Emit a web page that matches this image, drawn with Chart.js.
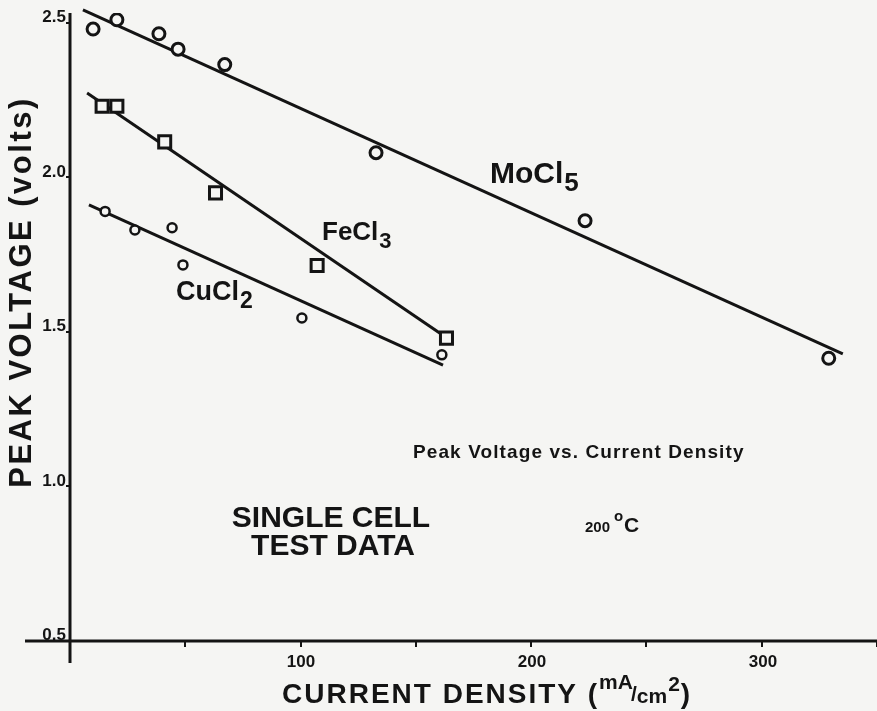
<!DOCTYPE html>
<html>
<head>
<meta charset="utf-8">
<title>Peak Voltage vs. Current Density</title>
<script src="https://cdn.jsdelivr.net/npm/chart.js@4.4.0/dist/chart.umd.min.js"></script>
<style>
  html, body { margin: 0; padding: 0; background: #f5f5f3; }
  #wrap { width: 877px; height: 711px; position: relative; }
</style>
</head>
<body>
<div id="wrap"><canvas id="peakChart"></canvas></div>
<script>
// values (x = mA/cm2, y = volts)
const moX = [10, 20.3, 38.5, 46.8, 67, 132.5, 223, 328.5];
const moY = [2.48, 2.51, 2.465, 2.415, 2.365, 2.08, 1.86, 1.415];
const feX = [13.9, 20.3, 41, 63, 107, 163];
const feY = [2.23, 2.23, 2.115, 1.95, 1.715, 1.48];
const cuX = [15.2, 28.1, 44.2, 48.9, 100.4, 161];
const cuY = [1.89, 1.83, 1.837, 1.717, 1.545, 1.426];

// hand drawn fit lines, end points
const moLineX = [5.6, 334.6];
const moLineY = [2.542, 1.429];
const feLineX = [7.4, 164.5];
const feLineY = [2.273, 1.474];
const cuLineX = [8.2, 161.5];
const cuLineY = [1.911, 1.393];

const xLabels = [100, 200, 300];
const yLabels = [0.5, 1.0, 1.5, 2.0, 2.5];

const ink = '#141414';
const paper = '#f5f5f3';
const fontFam = '"Liberation Sans", Arial, sans-serif';

function pts(xs, ys) {
    return xs.map((v, i) => ({ x: v, y: ys[i] }));
}

function markSet(label, xs, ys, style, r, bw) {
    return {
        label: label,
        data: pts(xs, ys),
        showLine: false,
        pointStyle: style,
        pointRadius: r,
        pointHoverRadius: r,
        pointBorderWidth: bw,
        pointBorderColor: ink,
        pointBackgroundColor: paper,
        order: 0
    };
}

function fitSet(label, xs, ys) {
    return {
        label: label,
        data: pts(xs, ys),
        showLine: true,
        borderColor: ink,
        borderWidth: 3,
        pointRadius: 0,
        clip: false,
        order: 1
    };
}

// formula with a subscript digit
function chem(ctx, base, sub, x, y, size, drop) {
    ctx.font = 'bold ' + size + 'px ' + fontFam;
    ctx.fillText(base, x, y);
    const w = ctx.measureText(base).width;
    ctx.font = 'bold ' + Math.round(size * 0.85) + 'px ' + fontFam;
    ctx.fillText(sub, x + w + 1, y + drop);
}

const paperPlugin = {
    id: 'paper',
    beforeDraw(chart) {
        const ctx = chart.ctx;
        ctx.save();
        ctx.fillStyle = paper;
        ctx.fillRect(0, 0, chart.width, chart.height);
        ctx.restore();
    },
    beforeDatasetsDraw(chart) {
        const { ctx, scales: { x, y } } = chart;
        const x0 = x.getPixelForValue(0);
        const yb = y.getPixelForValue(0.5);
        ctx.save();
        ctx.strokeStyle = ink;
        ctx.lineWidth = 3;
        ctx.beginPath();
        ctx.moveTo(25, yb);
        ctx.lineTo(chart.width, yb);
        ctx.moveTo(x0, y.top);
        ctx.lineTo(x0, yb + 22);
        ctx.stroke();

        // tick labels
        ctx.fillStyle = ink;
        ctx.font = 'bold 17px ' + fontFam;
        ctx.textAlign = 'center';
        ctx.textBaseline = 'top';
        xLabels.forEach(v => ctx.fillText(String(v), x.getPixelForValue(v), yb + 13));
        ctx.textAlign = 'right';
        ctx.textBaseline = 'bottom';
        ctx.font = 'bold 17px ' + fontFam;
        yLabels.forEach(v => ctx.fillText(v.toFixed(1), x0 - 4, y.getPixelForValue(v) + 3));
        ctx.restore();
    },
    afterDraw(chart) {
        const ctx = chart.ctx;
        ctx.save();
        ctx.fillStyle = ink;
        ctx.textBaseline = 'alphabetic';
        ctx.textAlign = 'left';

        chem(ctx, 'MoCl', '5', 490, 183, 30, 8);
        chem(ctx, 'FeCl', '3', 322, 240, 26, 8);
        chem(ctx, 'CuCl', '2', 176, 300, 27, 8);

        ctx.font = 'bold 19px ' + fontFam;
        ctx.letterSpacing = '1.1px';
        ctx.fillText('Peak Voltage vs. Current Density', 413, 458);
        ctx.letterSpacing = '0px';

        ctx.textAlign = 'center';
        ctx.font = 'bold 30px ' + fontFam;
        ctx.fillText('SINGLE CELL', 331, 527);
        ctx.fillText('TEST DATA', 333, 555);

        // 200 oC
        ctx.textAlign = 'left';
        ctx.font = 'bold 15px ' + fontFam;
        ctx.fillText('200', 585, 532);
        ctx.fillText('o', 614, 521);
        ctx.font = 'bold 21px ' + fontFam;
        ctx.fillText('C', 624, 532);

        // y title
        ctx.save();
        ctx.translate(31, 292);
        ctx.rotate(-Math.PI / 2);
        ctx.textAlign = 'center';
        ctx.font = 'bold 31px ' + fontFam;
        ctx.letterSpacing = '2.5px';
        ctx.fillText('PEAK VOLTAGE (volts)', 0, 0);
        ctx.restore();

        // x title
        let cx = 282;
        const base = 703;
        ctx.letterSpacing = '2px';
        ctx.font = 'bold 28px ' + fontFam;
        ctx.fillText('CURRENT DENSITY (', cx, base);
        cx += ctx.measureText('CURRENT DENSITY (').width;
        ctx.letterSpacing = '0px';
        ctx.font = 'bold 21px ' + fontFam;
        ctx.fillText('mA', cx, base - 14);
        cx += ctx.measureText('mA').width;
        ctx.fillText('/', cx - 2, base - 2);
        cx += ctx.measureText('/').width - 2;
        ctx.fillText('cm', cx, base);
        cx += ctx.measureText('cm').width;
        ctx.fillText('2', cx + 1, base - 12);
        cx += ctx.measureText('2').width + 2;
        ctx.font = 'bold 28px ' + fontFam;
        ctx.fillText(')', cx, base);
        ctx.restore();
    }
};

const ctx = document.getElementById('peakChart').getContext('2d');
const peakChart = new Chart(ctx, {
    type: 'scatter',
    data: {
        datasets: [
            markSet('MoCl5', moX, moY, 'circle', 6, 3),
            markSet('FeCl3', feX, feY, 'rect', 8.5, 3),
            markSet('CuCl2', cuX, cuY, 'circle', 4.5, 2.5),
            fitSet('MoCl5 fit', moLineX, moLineY),
            fitSet('FeCl3 fit', feLineX, feLineY),
            fitSet('CuCl2 fit', cuLineX, cuLineY)
        ]
    },
    options: {
        responsive: true,
        maintainAspectRatio: false,
        animation: false,
        layout: { autoPadding: false, padding: { top: 13, right: 0, left: 0, bottom: 0 } },
        plugins: {
            legend: { display: false },
            tooltip: { enabled: false },
            title: { display: false }
        },
        scales: {
            x: {
                type: 'linear',
                min: 0,
                max: 349.4,
                afterFit: (s) => { s.height = 70; },
                border: { display: false },
                grid: {
                    drawOnChartArea: false,
                    color: ink,
                    lineWidth: 2,
                    tickLength: 6
                },
                ticks: {
                    display: false,
                    stepSize: 50,
                    includeBounds: false
                }
            },
            y: {
                type: 'linear',
                min: 0.5,
                max: 2.532,
                afterFit: (s) => { s.width = 70; },
                border: { display: false },
                grid: {
                    drawOnChartArea: false,
                    color: ink,
                    lineWidth: 2,
                    tickLength: 4
                },
                ticks: {
                    display: false,
                    stepSize: 0.5,
                    includeBounds: false
                }
            }
        }
    },
    plugins: [paperPlugin]
});
</script>
</body>
</html>
